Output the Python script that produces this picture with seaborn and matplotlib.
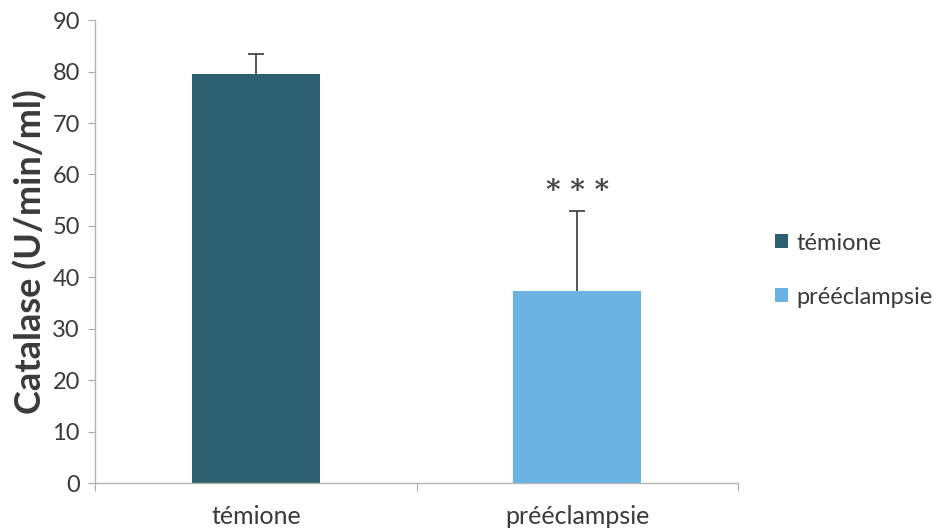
import matplotlib
matplotlib.use("Agg")
import matplotlib.pyplot as plt
import seaborn as sns
import pandas as pd
from matplotlib.ticker import FixedLocator

# Catalase activity per group (mean and upper SD)
groups = ["témione", "prééclampsie"]
catalase_mean = [79.6, 37.3]
catalase_sd = [3.9, 15.6]
significance = ["", "* * *"]
bar_colors = ["#2c5f6f", "#6ab3e3"]

sns.set_theme(style="white")
plt.rcParams["font.family"] = ["Lato", "DejaVu Sans"]

df = pd.DataFrame({"groupe": groups, "catalase": catalase_mean})

fig = plt.figure(figsize=(9.34, 5.32), dpi=100)
ax = fig.add_axes([0.102, 0.092, 0.688, 0.870])

sns.barplot(data=df, x="groupe", y="catalase", hue="groupe",
            palette=bar_colors, saturation=1, width=0.4, dodge=False,
            legend=True, edgecolor="none", ax=ax)

# one-sided (upper) error bars
xs = list(range(len(groups)))
_, caps, _ = ax.errorbar(xs, catalase_mean,
                         yerr=[[0] * len(groups), catalase_sd],
                         fmt="none", ecolor="#3a3a3a", elinewidth=1.2,
                         capsize=6, capthick=1.2)
caps[0].set_visible(False)

for x, m, s, lab in zip(xs, catalase_mean, catalase_sd, significance):
    if lab:
        ax.text(x, m + s + 1.2, lab, ha="center", va="bottom",
                fontsize=20, fontweight="bold", color="#444444",
                family="DejaVu Serif")

ax.set_ylim(0, 90)
ax.set_xlim(-0.5, 1.5)
ax.set_yticks(range(0, 91, 10))
ax.tick_params(axis="y", labelsize=17, colors="#aaaaaa", labelcolor="#3a3a3a",
               length=5, width=0.8, direction="out", left=True, pad=6)
ax.xaxis.set_minor_locator(FixedLocator([-0.5, 0.5, 1.5]))
ax.tick_params(axis="x", which="major", labelsize=18, labelcolor="#3a3a3a",
               length=0, pad=16)
ax.tick_params(axis="x", which="minor", length=6, width=0.8,
               colors="#aaaaaa", bottom=True)

ax.set_xlabel("")
ax.set_ylabel("Catalase (U/min/ml)", fontsize=26, fontweight="bold",
              color="#3a3a3a", labelpad=4)

for side in ["top", "right"]:
    ax.spines[side].set_visible(False)
for side in ["left", "bottom"]:
    ax.spines[side].set_color("#b5b5b5")
    ax.spines[side].set_linewidth(1.0)

leg = ax.legend(loc="center left", bbox_to_anchor=(1.025, 0.46),
                frameon=False, fontsize=17, handlelength=0.55,
                handleheight=0.55, handletextpad=0.35, labelspacing=1.4)
for t in leg.get_texts():
    t.set_color("#3a3a3a")

fig.savefig("out.png", dpi=100)
